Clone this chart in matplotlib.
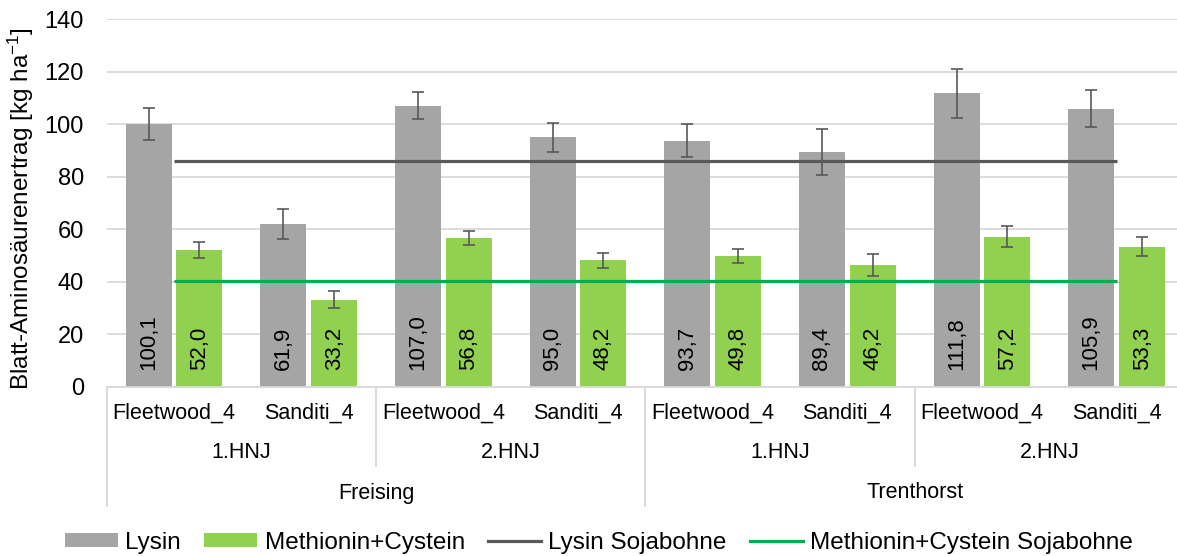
import numpy as np
import matplotlib
import matplotlib.pyplot as plt
from matplotlib.patches import Patch
from matplotlib.lines import Line2D

# Saving straight to PNG, no display
matplotlib.use('Agg')

plt.rcParams['font.family'] = ['Liberation Sans', 'DejaVu Sans']
plt.rcParams['mathtext.default'] = 'regular'

# Data
varieties = ["Fleetwood_4", "Sanditi_4"] * 4
years = ["1.HNJ", "2.HNJ", "1.HNJ", "2.HNJ"]
sites = ["Freising", "Trenthorst"]

lysin = [100.1, 61.9, 107.0, 95.0, 93.7, 89.4, 111.8, 105.9]
lysin_err = [6.0, 5.8, 5.2, 5.4, 6.3, 8.6, 9.4, 7.0]
met_cys = [52.0, 33.2, 56.8, 48.2, 49.8, 46.2, 57.2, 53.3]
met_cys_err = [3.0, 3.3, 2.7, 2.8, 2.6, 4.2, 4.1, 3.6]
lysin_soy = [85.9, 85.9, 85.9, 85.9, 85.9, 85.9, 85.9, 85.9]
met_cys_soy = [40.2, 40.2, 40.2, 40.2, 40.2, 40.2, 40.2, 40.2]

gray = "#A5A5A5"
green = "#92D050"
dark = "#595959"
soy_green = "#00B050"
grid_col = "#D9D9D9"

W, H = 1177, 556
fig = plt.figure(figsize=(W / 100, H / 100), dpi=100)

# axes placed in pixels: left 106.7, right 1184 (cropped), baseline 386.7, top 19.2
ax_l, ax_r, ax_b, ax_t = 106.7, 1184.0, 386.7, 19.2
ax = fig.add_axes([ax_l / W, 1 - ax_b / H, (ax_r - ax_l) / W, (ax_b - ax_t) / H])

x = np.arange(len(lysin))
bw = 0.3415
off = 0.189

ax.bar(x - off, lysin, bw, color=gray, zorder=2)
ax.bar(x + off, met_cys, bw, color=green, zorder=2)
ax.errorbar(x - off, lysin, yerr=lysin_err, fmt='none', ecolor=dark,
            elinewidth=1.2, capsize=4.5, capthick=1.2, zorder=3)
ax.errorbar(x + off, met_cys, yerr=met_cys_err, fmt='none', ecolor=dark,
            elinewidth=1.2, capsize=4.5, capthick=1.2, zorder=3)
ax.plot(x, lysin_soy, color=dark, lw=2.3, solid_capstyle='butt', zorder=4)
ax.plot(x, met_cys_soy, color=soy_green, lw=2.3, solid_capstyle='butt', zorder=4)

# value labels inside the base of each bar
for xi, v in zip(x, lysin):
    ax.annotate(f"{v:.1f}".replace(".", ","), (xi - off, 0), xytext=(0, 12),
                textcoords='offset points', rotation=90, ha='center', va='bottom',
                fontsize=16, color='black', zorder=5)
for xi, v in zip(x, met_cys):
    ax.annotate(f"{v:.1f}".replace(".", ","), (xi + off, 0), xytext=(0, 12),
                textcoords='offset points', rotation=90, ha='center', va='bottom',
                fontsize=16, color='black', zorder=5)

ax.set_xlim(-0.5, 7.5)
ax.set_ylim(0, 140)
ax.set_yticks(np.arange(0, 141, 20))
ax.tick_params(axis='y', length=0, pad=16.5, labelsize=17)
ax.tick_params(axis='x', length=0, labelbottom=False)
ax.yaxis.grid(True, color=grid_col, lw=1.3)
ax.set_axisbelow(True)
for s in ['top', 'right', 'left']:
    ax.spines[s].set_visible(False)
ax.spines['bottom'].set_color(grid_col)
ax.spines['bottom'].set_linewidth(1.3)

ax.set_ylabel("Blatt-Aminosäurenertrag [kg ha$^{-1}$]", fontsize=17.5)
ax.yaxis.set_label_coords(-0.066, 0.486)

# multi-level category axis
ax_h = ax_b - ax_t
def ypos(py):
    return -(py - ax_b) / ax_h

trans = ax.get_xaxis_transform()
for xi, name in zip(x, varieties):
    ax.text(xi, ypos(413), name, transform=trans, ha='center', va='center',
            fontsize=15.5, clip_on=False)
for i, name in enumerate(years):
    ax.text(2 * i + 0.5, ypos(453), name, transform=trans, ha='center', va='center',
            fontsize=15.5, clip_on=False)
for i, name in enumerate(sites):
    ax.text(4 * i + 1.5, ypos(493), name, transform=trans, ha='center', va='center',
            fontsize=15.5, clip_on=False)
for b in [1.5, 5.5]:
    ax.plot([b, b], [0, ypos(466)], transform=trans, color=grid_col, lw=1.3, clip_on=False)
for b in [-0.5, 3.5, 7.5]:
    ax.plot([b, b], [0, ypos(506)], transform=trans, color=grid_col, lw=1.3, clip_on=False)

handles = [
    Patch(facecolor=gray, label="Lysin"),
    Patch(facecolor=green, label="Methionin+Cystein"),
    Line2D([], [], color=dark, lw=2.3, label="Lysin Sojabohne"),
    Line2D([], [], color=soy_green, lw=2.3, label="Methionin+Cystein Sojabohne"),
]
fig.legend(handles=handles, loc='center', bbox_to_anchor=(599 / W, 1 - 543 / H),
           ncol=4, frameon=False, fontsize=17.5, handlelength=2.18, handleheight=0.5,
           handletextpad=0.3, columnspacing=0.95, borderaxespad=0)

plt.savefig("out.png", dpi=100)
